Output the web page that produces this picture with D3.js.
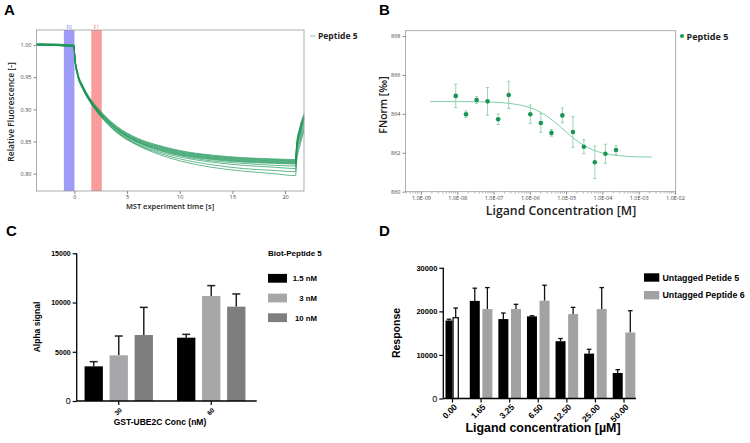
<!DOCTYPE html>
<html>
<head>
<meta charset="utf-8">
<script src="https://cdn.jsdelivr.net/npm/d3@7"></script>
<style>
  body { margin: 0; background: #fff; }
</style>
</head>
<body>
<div id="fig"></div>
<script>
// ---------- data ----------
// A: MST traces, relative fluorescence vs time [s]
var mstTimes = [-3.6, -0.05, 0.05, 0.3, 0.8, 1.5, 2.5, 4, 6, 8, 10, 13, 16, 19, 21, 21.1, 21.4, 21.8];
var mstTraces = [
  [1.002, 1.000, 0.981, 0.958, 0.937, 0.917, 0.897, 0.874, 0.855, 0.844, 0.836, 0.829, 0.825, 0.823, 0.822, 0.846, 0.872, 0.893],
  [1.002, 1.000, 0.980, 0.957, 0.936, 0.916, 0.896, 0.873, 0.854, 0.843, 0.835, 0.828, 0.824, 0.822, 0.821, 0.845, 0.870, 0.891],
  [1.001, 0.999, 0.980, 0.957, 0.936, 0.915, 0.895, 0.872, 0.853, 0.842, 0.834, 0.827, 0.823, 0.821, 0.820, 0.843, 0.868, 0.889],
  [1.001, 0.999, 0.979, 0.956, 0.935, 0.915, 0.894, 0.871, 0.852, 0.841, 0.833, 0.826, 0.822, 0.820, 0.819, 0.842, 0.867, 0.888],
  [1.001, 0.999, 0.979, 0.956, 0.935, 0.914, 0.893, 0.870, 0.851, 0.840, 0.832, 0.825, 0.821, 0.819, 0.818, 0.840, 0.865, 0.886],
  [1.001, 0.999, 0.978, 0.955, 0.934, 0.914, 0.893, 0.870, 0.850, 0.839, 0.831, 0.824, 0.820, 0.818, 0.817, 0.839, 0.864, 0.885],
  [1.001, 0.999, 0.978, 0.955, 0.934, 0.913, 0.892, 0.869, 0.850, 0.838, 0.830, 0.823, 0.819, 0.817, 0.816, 0.837, 0.862, 0.883],
  [1.000, 0.998, 0.977, 0.954, 0.933, 0.913, 0.892, 0.868, 0.849, 0.837, 0.829, 0.822, 0.818, 0.816, 0.815, 0.836, 0.860, 0.881],
  [1.000, 0.998, 0.977, 0.954, 0.933, 0.912, 0.891, 0.867, 0.848, 0.836, 0.828, 0.820, 0.816, 0.813, 0.812, 0.833, 0.856, 0.877],
  [1.000, 0.998, 0.976, 0.953, 0.932, 0.912, 0.890, 0.866, 0.846, 0.834, 0.826, 0.818, 0.813, 0.810, 0.808, 0.829, 0.852, 0.873],
  [1.000, 0.998, 0.976, 0.953, 0.932, 0.911, 0.889, 0.865, 0.845, 0.832, 0.823, 0.814, 0.808, 0.805, 0.803, 0.824, 0.848, 0.869],
  [1.000, 0.998, 0.975, 0.952, 0.931, 0.911, 0.889, 0.864, 0.844, 0.830, 0.820, 0.810, 0.804, 0.800, 0.797, 0.818, 0.843, 0.866]
];
var bandF0 = [-1, 0];
var bandF1 = [1.6, 2.6];
var timeTicks = [0, 5, 10, 15, 20];
var fluorTicks = [0.80, 0.85, 0.90, 0.95, 1.00];

// B: dose response, FNorm [permil] vs ligand concentration [M]
var ligandConc = [9.08e-9, 1.74e-8, 3.41e-8, 6.82e-8, 1.34e-7, 2.62e-7, 1.03e-6, 2.01e-6, 3.94e-6, 7.87e-6, 1.54e-5, 3.08e-5, 6.17e-5, 1.21e-4, 2.37e-4];
var fnorm    = [864.92, 863.98, 864.71, 864.64, 863.72, 864.97, 863.98, 863.53, 863.02, 863.92, 863.07, 862.31, 861.51, 861.95, 862.14];
var fnormErr = [0.60, 0.17, 0.17, 0.71, 0.27, 0.70, 0.47, 0.48, 0.17, 0.38, 0.79, 0.36, 0.83, 0.49, 0.22];
var fitConc  = [1.78e-9, 1e-8, 3.16e-8, 1e-7, 3.16e-7, 1e-6, 1.78e-6, 3.16e-6, 5.62e-6, 1e-5, 1.78e-5, 3.16e-5, 5.62e-5, 1e-4, 3.16e-4, 1e-3, 2.3e-3];
var fitFnorm = [864.63, 864.63, 864.62, 864.60, 864.52, 864.32, 864.13, 863.84, 863.48, 863.07, 862.68, 862.36, 862.14, 861.99, 861.84, 861.79, 861.78];
var concTicks = [1e-9, 1e-8, 1e-7, 1e-6, 1e-5, 1e-4, 1e-3, 1e-2];
var concTickLabels = ["1.0E-09", "1.0E-08", "1.0E-07", "1.0E-06", "1.0E-05", "1.0E-04", "1.0E-03", "1.0E-02"];
var fnormTicks = [860, 862, 864, 866, 868];

// C: alpha signal per GST-UBE2C conc, three biot-peptide levels
var gstConc = ["30", "60"];
var biotLevels = ["1.5 nM", "3 nM", "10 nM"];
var alpha15 = [3520, 6430];
var alpha15Err = [475, 340];
var alpha3 = [4640, 10670];
var alpha3Err = [1960, 1050];
var alpha10 = [6700, 9580];
var alpha10Err = [2810, 1290];
var alphaTicks = [0, 5000, 10000, 15000];

// D: response vs ligand concentration [uM]
var ligandUM = ["0.00", "1.65", "3.25", "6.50", "12.50", "25.00", "50.00"];
var resp5 = [17900, 22400, 18230, 18850, 13150, 10300, 5850];
var resp5Err = [300, 2920, 1390, 150, 620, 1000, 770];
var resp6 = [18690, 20540, 20540, 22450, 19380, 20540, 15150];
var resp6Err = [2080, 4920, 1080, 3550, 1540, 4920, 5000];
var respTicks = [0, 10000, 20000, 30000];

// ---------- svg ----------
var svg = d3.select("#fig").append("svg")
    .attr("width", 750)
    .attr("height", 443)
    .style("font-family", "'Liberation Sans', Arial, sans-serif");
svg.append("rect").attr("width", 750).attr("height", 443).attr("fill", "#fff");

// panel letters
svg.append("text").attr("x", 4).attr("y", 15).text("A").style("font-size", "15px").style("font-weight", "bold");
svg.append("text").attr("x", 379).attr("y", 15).text("B").style("font-size", "15px").style("font-weight", "bold");
svg.append("text").attr("x", 6).attr("y", 236).text("C").style("font-size", "15px").style("font-weight", "bold");
svg.append("text").attr("x", 379).attr("y", 236).text("D").style("font-size", "15px").style("font-weight", "bold");

function styleThinAxis(g) {
  g.select(".domain").remove();
  g.selectAll(".tick line").attr("stroke", "#888");
  g.selectAll(".tick text").attr("fill", "#444").style("font-size", "5.5px")
    .style("font-family", "'Open Sans', sans-serif");
}

// ---------- A ----------
var xA = d3.scaleLinear().domain([-3.6, 21.8]).range([36.5, 304]);
var yA = d3.scaleLinear().domain([0.7731, 1.0233]).range([191, 30]);
var gA = svg.append("g");

gA.append("rect").attr("x", xA(bandF0[0])).attr("y", yA.range()[1])
  .attr("width", xA(bandF0[1]) - xA(bandF0[0])).attr("height", yA.range()[0] - yA.range()[1])
  .attr("fill", "#9c9cf7");
gA.append("rect").attr("x", xA(bandF1[0])).attr("y", yA.range()[1])
  .attr("width", xA(bandF1[1]) - xA(bandF1[0])).attr("height", yA.range()[0] - yA.range()[1])
  .attr("fill", "#fb9c9c");
gA.append("text").attr("x", xA((bandF0[0] + bandF0[1]) / 2)).attr("y", 28.5).text("F0")
  .attr("text-anchor", "middle").attr("fill", "#7c7cf0").style("font-size", "5px").style("font-family", "'Open Sans', sans-serif");
gA.append("text").attr("x", xA((bandF1[0] + bandF1[1]) / 2)).attr("y", 28.5).text("F1")
  .attr("text-anchor", "middle").attr("fill", "#f07c7c").style("font-size", "5px").style("font-family", "'Open Sans', sans-serif");

var lineA = d3.line()
  .x(function(d, i) { return xA(mstTimes[i]); })
  .y(function(d) { return yA(d); })
  .curve(d3.curveMonotoneX);
gA.selectAll(".trace")
  .data(mstTraces)
  .enter()
  .append("path")
    .attr("class", "trace")
    .attr("d", lineA)
    .attr("fill", "none")
    .attr("stroke", "#1c9657")
    .attr("stroke-width", 0.8)
    .attr("stroke-opacity", 0.85);

gA.append("rect").attr("x", 36.5).attr("y", 30).attr("width", 267.5).attr("height", 161)
  .attr("fill", "none").attr("stroke", "#9a9a9a").attr("stroke-width", 0.8);

gA.append("g").attr("transform", "translate(0,191)")
  .call(d3.axisBottom(xA).tickValues(timeTicks).tickSize(3).tickPadding(1))
  .call(styleThinAxis);
gA.append("g").attr("transform", "translate(36.5,0)")
  .call(d3.axisLeft(yA).tickValues(fluorTicks).tickFormat(d3.format(".2f")).tickSize(3).tickPadding(2))
  .call(styleThinAxis);

gA.append("text").attr("transform", "translate(14,112) rotate(-90)").attr("text-anchor", "middle")
  .text("Relative Fluorescence [-]").style("font-size", "8.5px").style("font-weight", "600")
  .style("font-family", "'Open Sans', sans-serif").attr("fill", "#222");
gA.append("text").attr("x", 170).attr("y", 209).attr("text-anchor", "middle")
  .text("MST experiment time [s]").style("font-size", "7.5px").style("font-weight", "600")
  .style("font-family", "'Open Sans', sans-serif").attr("fill", "#222");

gA.append("line").attr("x1", 310).attr("x2", 316).attr("y1", 36).attr("y2", 36)
  .attr("stroke", "#6cc596").attr("stroke-width", 0.8);
gA.append("text").attr("x", 318).attr("y", 39).text("Peptide 5")
  .style("font-size", "8.5px").style("font-weight", "bold").style("font-family", "'Open Sans', sans-serif").attr("fill", "#222");

// ---------- B ----------
var xB = d3.scaleLog().domain([3.74e-10, 1.047e-2]).range([405.5, 675.7]);
var yB = d3.scaleLinear().domain([860, 868.27]).range([191.7, 30.7]);
var gB = svg.append("g");

gB.append("rect").attr("x", 405.5).attr("y", 30.7).attr("width", 270.2).attr("height", 161)
  .attr("fill", "none").attr("stroke", "#9a9a9a").attr("stroke-width", 0.8);

// minor log ticks
var minorTicks = xB.ticks().filter(function(d) { return concTicks.indexOf(d) < 0; });
gB.selectAll(".minor").data(minorTicks).enter().append("line")
  .attr("x1", function(d) { return xB(d); }).attr("x2", function(d) { return xB(d); })
  .attr("y1", 191.7).attr("y2", 193.5).attr("stroke", "#888").attr("stroke-width", 0.6);
gB.append("g").attr("transform", "translate(0,191.7)")
  .call(d3.axisBottom(xB).tickValues(concTicks).tickFormat(function(d, i) { return concTickLabels[i]; }).tickSize(3).tickPadding(1.5))
  .call(styleThinAxis);
gB.append("g").attr("transform", "translate(405.5,0)")
  .call(d3.axisLeft(yB).tickValues(fnormTicks).tickSize(3).tickPadding(2))
  .call(styleThinAxis);

var lineB = d3.line()
  .x(function(d, i) { return xB(fitConc[i]); })
  .y(function(d) { return yB(d); })
  .curve(d3.curveMonotoneX);
gB.append("path").datum(fitFnorm).attr("d", lineB)
  .attr("fill", "none").attr("stroke", "#7fd0a7").attr("stroke-width", 1);

var err = gB.selectAll(".err").data(fnorm).enter().append("g");
err.append("line")
  .attr("x1", function(d, i) { return xB(ligandConc[i]); }).attr("x2", function(d, i) { return xB(ligandConc[i]); })
  .attr("y1", function(d, i) { return yB(d - fnormErr[i]); }).attr("y2", function(d, i) { return yB(d + fnormErr[i]); })
  .attr("stroke", "#86c7a3").attr("stroke-width", 0.8);
err.append("line")
  .attr("x1", function(d, i) { return xB(ligandConc[i]) - 1.6; }).attr("x2", function(d, i) { return xB(ligandConc[i]) + 1.6; })
  .attr("y1", function(d, i) { return yB(d + fnormErr[i]); }).attr("y2", function(d, i) { return yB(d + fnormErr[i]); })
  .attr("stroke", "#86c7a3").attr("stroke-width", 0.8);
err.append("line")
  .attr("x1", function(d, i) { return xB(ligandConc[i]) - 1.6; }).attr("x2", function(d, i) { return xB(ligandConc[i]) + 1.6; })
  .attr("y1", function(d, i) { return yB(d - fnormErr[i]); }).attr("y2", function(d, i) { return yB(d - fnormErr[i]); })
  .attr("stroke", "#86c7a3").attr("stroke-width", 0.8);
gB.selectAll(".pt").data(fnorm).enter().append("circle")
  .attr("cx", function(d, i) { return xB(ligandConc[i]); })
  .attr("cy", function(d) { return yB(d); })
  .attr("r", 2.3).attr("fill", "#1a9456");

gB.append("text").attr("transform", "translate(387,105) rotate(-90)").attr("text-anchor", "middle")
  .text("FNorm [‰]").style("font-size", "10.5px").style("font-weight", "600")
  .style("font-family", "'Open Sans', sans-serif").attr("fill", "#222");
gB.append("text").attr("x", 561).attr("y", 215).attr("text-anchor", "middle")
  .text("Ligand Concentration [M]").style("font-size", "12.3px").style("font-weight", "600")
  .style("font-family", "'Open Sans', sans-serif").attr("fill", "#222");
gB.append("circle").attr("cx", 682).attr("cy", 36).attr("r", 2).attr("fill", "#1a9456");
gB.append("text").attr("x", 686.5).attr("y", 39.5).text("Peptide 5")
  .style("font-size", "9px").style("font-weight", "bold").style("font-family", "'Open Sans', sans-serif").attr("fill", "#222");

// ---------- shared bar-axis styling ----------
function styleBarAxis(g, zeroSize) {
  g.select(".domain").remove();
  g.selectAll(".tick line").attr("stroke", "#000").attr("stroke-width", 1.2);
  g.selectAll(".tick text").attr("fill", "#000").style("font-weight", "bold").style("font-size", "7px");
  g.selectAll(".tick text").filter(function(d) { return d === 0; })
    .style("font-size", zeroSize).style("font-weight", "normal");
}
function rotateLabels(g, size, dx, dy) {
  g.select(".domain").remove();
  g.selectAll(".tick line").attr("stroke", "#000").attr("stroke-width", 1.2);
  g.selectAll(".tick text").attr("fill", "#000").style("font-weight", "bold").style("font-size", size)
    .attr("text-anchor", "end").attr("x", 0).attr("y", 0).attr("dy", "0.35em")
    .attr("transform", "translate(" + dx + "," + dy + ") rotate(-45)");
}

// ---------- C ----------
var xC = d3.scaleBand().domain(gstConc).range([72.5, 257.5]);
var xCsub = d3.scaleBand().domain(biotLevels).range([-34.2, 34.2]).paddingInner(0.268);
var yC = d3.scaleLinear().domain([0, 15000]).range([401, 253.3]);
var colorC = d3.scaleOrdinal().domain(biotLevels).range(["#000000", "#a7a7aa", "#7e7e7e"]);
var seriesC = [
  {name: biotLevels[0], values: alpha15, errs: alpha15Err},
  {name: biotLevels[1], values: alpha3, errs: alpha3Err},
  {name: biotLevels[2], values: alpha10, errs: alpha10Err}
];
var gC = svg.append("g");

seriesC.forEach(function(s) {
  s.values.forEach(function(v, i) {
    var cx = xC(gstConc[i]) + xC.bandwidth() / 2 + xCsub(s.name) + xCsub.bandwidth() / 2;
    gC.append("line").attr("x1", cx).attr("x2", cx).attr("y1", yC(v)).attr("y2", yC(v + s.errs[i]))
      .attr("stroke", "#222").attr("stroke-width", 1.5);
    gC.append("line").attr("x1", cx - 4).attr("x2", cx + 4).attr("y1", yC(v + s.errs[i])).attr("y2", yC(v + s.errs[i]))
      .attr("stroke", "#222").attr("stroke-width", 1.5);
    gC.append("rect").attr("x", cx - xCsub.bandwidth() / 2).attr("width", xCsub.bandwidth())
      .attr("y", yC(v)).attr("height", yC(0) - yC(v)).attr("fill", colorC(s.name));
  });
});

gC.append("line").attr("x1", 76.7).attr("x2", 256.7).attr("y1", yC(0)).attr("y2", yC(0)).attr("stroke", "#000").attr("stroke-width", 1.3);
gC.append("line").attr("x1", 76.7).attr("x2", 76.7).attr("y1", yC(0)).attr("y2", yC(15000)).attr("stroke", "#000").attr("stroke-width", 1.3);
gC.append("g").attr("transform", "translate(76.7,0)")
  .call(d3.axisLeft(yC).tickValues(alphaTicks).tickFormat(d3.format("d")).tickSize(4).tickPadding(2))
  .call(styleBarAxis, "9px");
gC.append("g").attr("transform", "translate(0," + yC(0) + ")")
  .call(d3.axisBottom(xC).tickSize(4))
  .call(rotateLabels, "6.5px", 2, 8);

gC.append("text").attr("transform", "translate(40,327) rotate(-90)").attr("text-anchor", "middle")
  .text("Alpha signal").style("font-size", "8.5px").style("font-weight", "bold");
gC.append("text").attr("x", 160).attr("y", 425).attr("text-anchor", "middle")
  .text("GST-UBE2C Conc (nM)").style("font-size", "8.5px").style("font-weight", "bold");

gC.append("text").attr("x", 268).attr("y", 256).text("Biot-Peptide 5")
  .style("font-size", "8px").style("font-weight", "bold");
var legC = gC.selectAll(".legC").data(biotLevels).enter().append("g")
  .attr("transform", function(d, i) { return "translate(268," + (278.3 + i * 19.7) + ")"; });
legC.append("rect").attr("x", 0).attr("y", -4.4).attr("width", 19).attr("height", 8.8).attr("fill", function(d) { return colorC(d); });
legC.append("text").attr("x", 49).attr("y", 2.8).attr("text-anchor", "end").text(function(d) { return d; })
  .style("font-size", "7.8px").style("font-weight", "bold");

// ---------- D ----------
var xD = d3.scaleBand().domain(ligandUM).range([438.2, 638.3]);
var yD = d3.scaleLinear().domain([0, 30000]).range([398.5, 267.8]);
var gD = svg.append("g");

function drawBarD(x, w, v, e, fill, stroke) {
  gD.append("line").attr("x1", x + w / 2).attr("x2", x + w / 2).attr("y1", yD(v)).attr("y2", yD(v + e))
    .attr("stroke", "#111").attr("stroke-width", 1.3);
  gD.append("line").attr("x1", x + w / 2 - 2.3).attr("x2", x + w / 2 + 2.3).attr("y1", yD(v + e)).attr("y2", yD(v + e))
    .attr("stroke", "#111").attr("stroke-width", 1.3);
  var r = gD.append("rect").attr("x", x).attr("width", w).attr("y", yD(v)).attr("height", yD(0) - yD(v)).attr("fill", fill);
  if (stroke) {
    r.attr("x", x + 0.6).attr("width", w - 1.2).attr("y", yD(v) + 0.6).attr("height", yD(0) - yD(v) - 0.6)
      .attr("stroke", stroke).attr("stroke-width", 1.2);
  }
}

ligandUM.forEach(function(c, i) {
  var cx = xD(c) + xD.bandwidth() / 2;
  if (i === 0) {
    drawBarD(cx - 7, 7, resp5[i], resp5Err[i], "#000");
    drawBarD(cx, 6.4, resp6[i], resp6Err[i], "#fff", "#000");
  } else {
    drawBarD(cx - 11.3, 10, resp5[i], resp5Err[i], "#000");
    drawBarD(cx + 1.3, 10, resp6[i], resp6Err[i], "#a2a2a2");
  }
});

gD.append("line").attr("x1", 443.3).attr("x2", 636).attr("y1", yD(0)).attr("y2", yD(0)).attr("stroke", "#000").attr("stroke-width", 1.3);
gD.append("line").attr("x1", 443.3).attr("x2", 443.3).attr("y1", yD(0)).attr("y2", yD(30000)).attr("stroke", "#000").attr("stroke-width", 1.3);
gD.append("g").attr("transform", "translate(443.3,0)")
  .call(d3.axisLeft(yD).tickValues(respTicks).tickFormat(d3.format("d")).tickSize(4).tickPadding(2))
  .call(styleBarAxis, "9px")
  .call(function(g) { g.selectAll(".tick text").filter(function(d) { return d !== 0; }).style("font-size", "7.5px"); });
gD.append("g").attr("transform", "translate(0," + yD(0) + ")")
  .call(d3.axisBottom(xD).tickSize(4))
  .call(rotateLabels, "8.5px", 3, 7);

gD.append("text").attr("transform", "translate(400,333) rotate(-90)").attr("text-anchor", "middle")
  .text("Response").style("font-size", "10.5px").style("font-weight", "bold");
gD.append("text").attr("x", 543).attr("y", 432).attr("text-anchor", "middle")
  .text("Ligand concentration [µM]").style("font-size", "12.4px").style("font-weight", "bold");

gD.append("rect").attr("x", 644).attr("y", 273.3).attr("width", 15.3).attr("height", 8.4).attr("fill", "#000");
gD.append("rect").attr("x", 644).attr("y", 291).attr("width", 15.3).attr("height", 8.4).attr("fill", "#a2a2a2");
gD.append("text").attr("x", 662.5).attr("y", 280.5).text("Untagged Petide 5").style("font-size", "8.8px").style("font-weight", "bold");
gD.append("text").attr("x", 662.5).attr("y", 298.2).text("Untagged Peptide 6").style("font-size", "8.8px").style("font-weight", "bold");
</script>
</body>
</html>
